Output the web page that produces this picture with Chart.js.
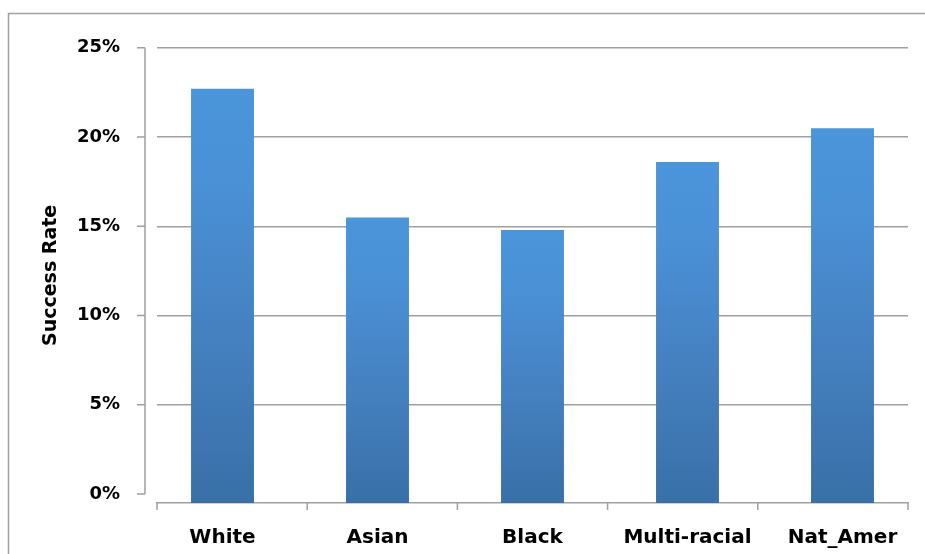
<!DOCTYPE html>
<html>
<head>
<meta charset="utf-8">
<script src="https://cdn.jsdelivr.net/npm/chart.js@4.4.1/dist/chart.umd.min.js"></script>
<style>
  html, body { margin: 0; padding: 0; background: #ffffff; }
  #wrap { width: 925px; height: 554px; position: relative; }
</style>
</head>
<body>
<div id="wrap"><canvas id="chart" width="925" height="554"></canvas></div>
<script>
// Success rate by group (percent)
const categories = ['White', 'Asian', 'Black', 'Multi-racial', 'Nat_Amer'];
const successRate = [22.7, 15.5, 14.8, 18.6, 20.5];
const yTicks = [0, 5, 10, 15, 20, 25];

const FONT = '"DejaVu Sans", "Liberation Sans", sans-serif';
const GRID = '#a0a0a0';

// Outer frame plus the detached value axis and category dividers
const framePlugin = {
  id: 'frame',
  beforeDraw(chart) {
    const c = chart.ctx;
    c.save();
    c.fillStyle = '#ffffff';
    c.fillRect(0, 0, chart.width, chart.height);
    c.strokeStyle = '#a0a0a0';
    c.lineWidth = 1.5;
    c.beginPath();
    c.moveTo(chart.width + 5, 13.5);
    c.lineTo(8.5, 13.5);
    c.lineTo(8.5, chart.height + 5);
    c.stroke();
    c.restore();
  },
  afterDraw(chart) {
    const c = chart.ctx;
    const y = chart.scales.y;
    const area = chart.chartArea;
    const ax = area.left - 12;
    c.save();
    c.strokeStyle = GRID;
    c.lineWidth = 1.5;
    // value axis line with outward ticks
    c.beginPath();
    c.moveTo(ax, y.getPixelForValue(yTicks[yTicks.length - 1]));
    c.lineTo(ax, y.getPixelForValue(0));
    yTicks.forEach(t => {
      const py = y.getPixelForValue(t);
      c.moveTo(ax - 8, py);
      c.lineTo(ax, py);
    });
    c.stroke();
    // category divider ticks below the baseline
    const n = categories.length;
    const w = (area.right - area.left) / n;
    c.beginPath();
    for (let i = 0; i <= n; i++) {
      const px = area.left + i * w;
      c.moveTo(px, area.bottom);
      c.lineTo(px, area.bottom + 7);
    }
    c.stroke();
    c.restore();
  }
};

function barFill(context) {
  const chart = context.chart;
  const y = chart.scales.y;
  if (!chart.chartArea || !y || context.parsed == null) return '#4887c9';
  const top = y.getPixelForValue(context.parsed.y);
  const bottom = y.getPixelForValue(y.min);
  const g = chart.ctx.createLinearGradient(0, top, 0, bottom);
  g.addColorStop(0, '#4b95db');
  g.addColorStop(0.22, '#4a91d6');
  g.addColorStop(0.6, '#4580c0');
  g.addColorStop(1, '#3870a7');
  return g;
}

new Chart(document.getElementById('chart'), {
  type: 'bar',
  data: {
    datasets: [{
      data: successRate.map((v, i) => ({ x: i, y: v })),
      backgroundColor: barFill,
      borderWidth: 0,
      categoryPercentage: 1,
      barPercentage: 0.406,
      base: -0.5
    }]
  },
  plugins: [framePlugin],
  options: {
    responsive: false,
    animation: false,
    layout: { padding: { top: 45, right: 17, bottom: 0, left: 0 } },
    plugins: { legend: { display: false }, tooltip: { enabled: false } },
    scales: {
      x: {
        type: 'linear',
        offset: false,
        min: -0.4226,
        max: categories.length - 1 + 0.4226,
        afterBuildTicks: s => { s.ticks = categories.map((_, i) => ({ value: i })); },
        afterFit: s => { s.height = 51; },
        grid: { display: false, drawTicks: false, offset: false },
        border: { display: true, color: GRID, width: 1.5 },
        ticks: {
          autoSkip: false,
          maxRotation: 0,
          padding: 23,
          color: '#000000',
          font: { family: FONT, size: 20, weight: 'bold' },
          callback: v => categories[v]
        }
      },
      y: {
        min: -0.5,
        max: 25,
        afterBuildTicks: s => { s.ticks = yTicks.map(v => ({ value: v })); },
        afterFit: s => { s.width = 157; },
        grid: {
          drawTicks: false,
          lineWidth: 1.5,
          color: ctx => (ctx.tick && ctx.tick.value === 0) ? 'rgba(0,0,0,0)' : GRID
        },
        border: { display: false },
        ticks: {
          padding: 37,
          color: '#000000',
          font: { family: FONT, size: 18, weight: 'bold' },
          callback: v => v + '%'
        },
        title: {
          display: true,
          text: 'Success Rate',
          color: '#000000',
          font: { family: FONT, size: 19, weight: 'bold' },
          padding: { top: 40, bottom: 0 }
        }
      }
    }
  }
});
</script>
</body>
</html>
